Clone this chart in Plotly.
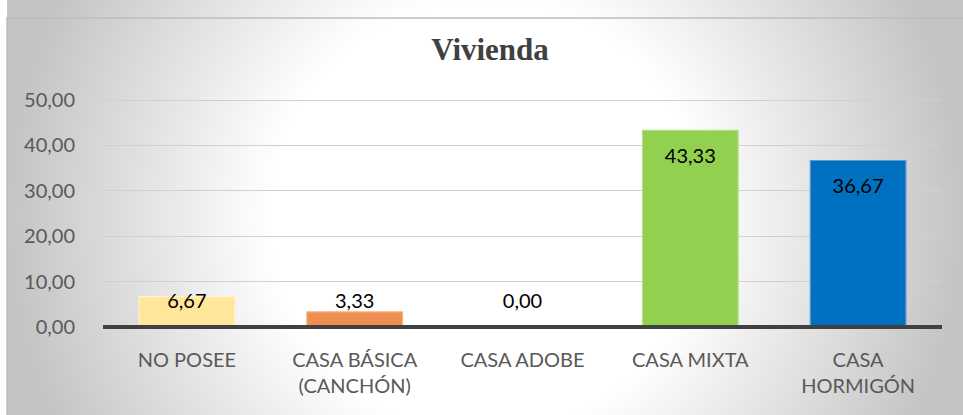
import plotly.graph_objects as go

categories = ["NO POSEE", "CASA BÁSICA<br>(CANCHÓN)", "CASA ADOBE", "CASA MIXTA", "CASA<br>HORMIGÓN"]
values = [6.67, 3.33, 0.00, 43.33, 36.67]
bar_colors = ["#FFE699", "#EE8E50", "#A5A5A5", "#92D050", "#0070C0"]
edge_colors = ["#FFF2CC", "#F4B183", "#C9C9C9", "#B5E08A", "#5B9BD5"]
y_ticks = [0, 10, 20, 30, 40, 50]

W, H = 963, 415
# pixel positions of the plot area in the reference
px_left, px_right = 103, 942
px0, px50 = 327, 100
scale = (px0 - px50) / 50.0
lo, hi = -1, 51
ydom = [1 - (px0 - lo * scale) / H, 1 - (px50 - (hi - 50) * scale) / H]

fig = go.Figure()

# background: radial grey gradient behind everything
cx, cy, r = (7 + W) / 2, 216, (W - 7) / 2
fig.add_trace(go.Scatter(
    x=[cx - r, cx + r, cx + r, cx - r, cx - r],
    y=[cy - r, cy - r, cy + r, cy + r, cy - r],
    mode="lines", fill="toself", line=dict(width=0),
    fillgradient=dict(type="radial",
                      colorscale=[[0, "#ffffff"], [0.45, "#ffffff"], [1, "#c4c4c4"]]),
    hoverinfo="skip", showlegend=False, xaxis="x", yaxis="y",
))
# chart frame (top and left edges visible)
fig.add_trace(go.Scatter(
    x=[W + 5, 7, 7], y=[18, 18, H + 5], mode="lines",
    line=dict(color="#bdbdbd", width=1.5),
    hoverinfo="skip", showlegend=False, xaxis="x", yaxis="y",
))

fig.add_trace(go.Bar(
    x=categories, y=values,
    marker=dict(color=bar_colors, line=dict(color=edge_colors, width=1.2)),
    hoverinfo="skip", showlegend=False, xaxis="x2", yaxis="y2",
))

# data labels, inside the top of the bar, never lower than near the axis
label_y = [max(v - 6, 5.3) for v in values]
fig.add_trace(go.Scatter(
    x=categories, y=label_y, mode="text",
    text=[f"{v:.2f}".replace(".", ",") for v in values],
    textfont=dict(family="Lato", size=20, color="#000000"),
    hoverinfo="skip", showlegend=False, xaxis="x2", yaxis="y2",
))

fig.add_shape(type="line", xref="x2 domain", yref="y2", x0=0, x1=1, y0=0, y1=0,
              line=dict(color="#404040", width=4), layer="above")

fig.update_layout(
    width=W, height=H,
    margin=dict(l=0, r=0, t=0, b=0, pad=0),
    paper_bgcolor="#ffffff", plot_bgcolor="rgba(0,0,0,0)",
    separators=",.",
    bargap=0.43,
    title=dict(text="<b>Vivienda</b>", x=490 / W, xanchor="center", y=1 - 49 / H, yanchor="middle",
               automargin=False,
               font=dict(family="Liberation Serif", size=31, color="#404040")),
    xaxis=dict(domain=[0, 1], range=[0, W], visible=False, fixedrange=True, automargin=False),
    yaxis=dict(domain=[0, 1], range=[H, 0], visible=False, fixedrange=True, automargin=False),
    xaxis2=dict(domain=[px_left / W, px_right / W], anchor="y2", showgrid=False, zeroline=False,
                ticks="", ticklabelstandoff=14, automargin=False,
                tickfont=dict(family="Lato", size=20, color="#595959")),
    yaxis2=dict(domain=ydom, range=[lo, hi], anchor="x2", tickvals=y_ticks, tickformat=".2f",
                showgrid=True, gridcolor="#d0d0d0", gridwidth=1, zeroline=False,
                ticks="", ticklabelstandoff=27, automargin=False,
                tickfont=dict(family="Lato", size=20, color="#595959")),
)

fig.write_html("out.html", config={"displayModeBar": False},
               post_script="document.body.style.margin='0';document.body.style.overflow='hidden';")
